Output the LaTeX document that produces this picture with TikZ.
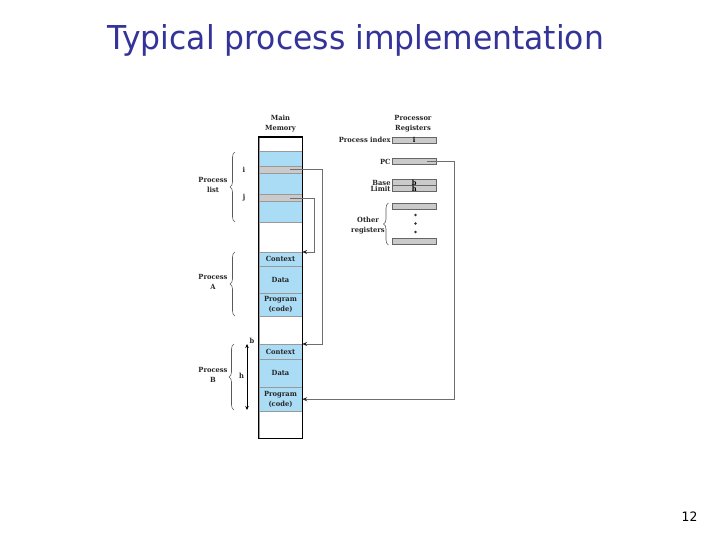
\documentclass[tikz,border=0pt]{standalone}
\usepackage{fontspec}
\setmainfont[FakeStretch=0.95]{DejaVu Serif}
\newfontfamily\titlefont[FakeStretch=0.955]{DejaVu Sans}
\usetikzlibrary{arrows.meta, decorations.pathreplacing, positioning}
\definecolor{memblue}{RGB}{170,220,245}
\definecolor{rowgray}{RGB}{202,202,202}
\definecolor{linegray}{RGB}{110,110,110}
\definecolor{titleblue}{RGB}{51,51,153}
\newcommand{\memfont}{\fontsize{7.1}{10}\selectfont\bfseries}
\tikzset{
  lbl/.style={font=\memfont, align=center, inner sep=1.5bp, text=black!85},
  seg/.style={draw=black!40, line width=0.4pt, fill=memblue, minimum width=43bp,
    inner sep=0pt, anchor=north, font=\memfont, align=center, text=black!85},
  reg/.style={draw=black!60, line width=0.5pt, fill=rowgray, minimum width=43.5bp,
    minimum height=6bp, inner sep=0pt, font=\memfont},
  ptr/.style={draw=linegray, line width=0.8pt, -{Stealth[length=5bp, width=4bp, color=black!85]}},
  brace/.style={decorate, decoration={brace, amplitude=5bp}, draw=black!65, line width=0.6pt}
}
\begin{document}
\begin{tikzpicture}[x=1bp, y=-1bp]
  \useasboundingbox[fill=white] (0,0) rectangle (720,540);
  % Titre et numero de page
  \node[font=\titlefont\fontsize{33}{40}\selectfont, text=titleblue, anchor=base] (title) at (356,50)
    {Typical process implementation};
  \node[font=\titlefont\fontsize{13}{15}\selectfont, anchor=base] (pagenum) at (689.5,521) {12};
  % En-tetes
  \node[lbl] (memhead) at (280.5,123.5) {Main\\Memory};
  \node[lbl] (reghead) at (413,123.5) {Processor\\Registers};
  % Segments de la memoire principale
  \foreach \nm/\top/\h/\col/\txt in {
      top/137/14/white/, blA/151/15/memblue/, irow/166/7/rowgray/,
      blB/173/21/memblue/, jrow/194/7.5/rowgray/, blC/201.5/20.5/memblue/,
      gapA/222/30/white/, ctxA/252/14/memblue/Context, dataA/266/27/memblue/Data,
      progA/293/23/memblue/Program\\(code), gapB/316/28/white/,
      ctxB/344/15/memblue/Context, dataB/359/28/memblue/Data,
      progB/387/24/memblue/Program\\(code), bot/411/27/white/}
    \node[seg, minimum height=\h bp, fill=\col] (\nm) at (280.5,\top) {\txt};
  \draw[line width=1.3pt] (top.north west) rectangle (bot.south east);
  % Registres du processeur
  \node[reg] (idx) at (414.25,140) {i};
  \node[reg] (pc) at (414.25,161.5) {};
  \node[reg] (base) at (414.25,182.5) {b};
  \node[reg] (limit) at (414.25,188.5) {h};
  \node[reg] (othA) at (414.25,206.5) {};
  \node[reg] (othB) at (414.25,241.5) {};
  \foreach \y in {215,223.5,232}
    \fill[black!80] (415.5,\y) circle (1.4);
  \node[lbl, left] at (idx.west) {Process index};
  \node[lbl, left] at (pc.west) {PC};
  \node[lbl, left] at (base.west) {Base};
  \node[lbl, left] at (limit.west) {Limit};
  % Accolades
  \draw[brace] (235,222) -- (235,152);
  \node[lbl] (plist) at (213,185) {Process\\list};
  \draw[brace] (235,316) -- (235,252);
  \node[lbl] (procA) at (213,281.5) {Process\\A};
  \draw[brace] (234,410) -- (234,344);
  \node[lbl] (procB) at (213,374.5) {Process\\B};
  \draw[brace] (388.5,245) -- (388.5,203);
  \node[lbl] (others) at (368,226) {Other\\registers};
  % Etiquettes i, j, b, h
  \node[lbl] (ilbl) at (244,169.5) {i};
  \node[lbl] (jlbl) at (244,198) {j};
  \node[lbl] (blbl) at (252,341) {b};
  \node[lbl] (hlbl) at (241.5,376) {h};
  \coordinate (htop) at (247,344);
  \coordinate (hbot) at (247,410);
  \draw[line width=0.6pt, {Stealth[length=4bp, width=3.5bp]}-{Stealth[length=4bp, width=3.5bp]}] (htop) -- (hbot);
  % Pointeurs
  \coordinate (iptr) at ([xshift=-12bp]irow.east);
  \coordinate (jptr) at ([xshift=-12bp]jrow.east);
  \coordinate (pcptr) at ([xshift=-9bp]pc.east);
  \draw[ptr] (iptr) -- ++(32,0) |- (ctxB.north east);
  \draw[ptr] (jptr) -- ++(24,0) |- (ctxA.north east);
  \draw[ptr] (pcptr) -- ++(27.5,0) |- (progB.east);
\end{tikzpicture}
\end{document}
